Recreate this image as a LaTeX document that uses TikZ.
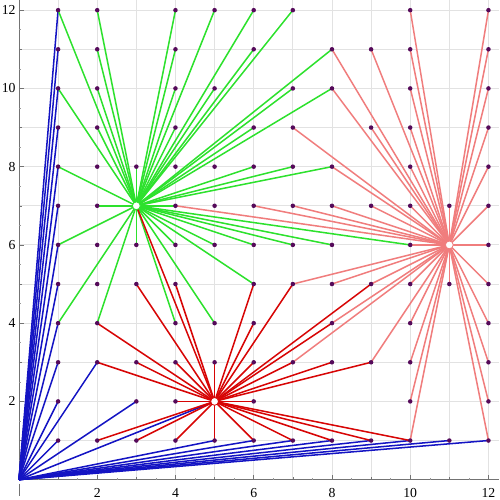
\documentclass[tikz,border=0pt]{standalone}
\usepackage{fontspec}
\setmainfont{Liberation Serif}
\usepackage{xcolor}
\usepackage{tikz}
\usetikzlibrary{positioning}

\definecolor{ptpurple}{RGB}{85,10,90}
\definecolor{blueline}{RGB}{20,20,195}
\definecolor{greenline}{RGB}{45,225,45}
\definecolor{redline}{RGB}{215,5,5}
\definecolor{pinkline}{RGB}{240,125,125}
\definecolor{gridgray}{RGB}{226,226,226}

\tikzset{
  bluestar/.style={blueline, line width=1.1pt},
  greenstar/.style={greenline, line width=1.1pt},
  redstar/.style={redline, line width=1.1pt},
  pinkstar/.style={pinkline, line width=1.1pt},
  latticept/.style={fill=ptpurple},
  ticklabel/.style={font=\fontsize{10}{12}\selectfont, inner sep=0pt}
}

\begin{document}
\begin{tikzpicture}[x=1cm, y=1cm]
  \useasboundingbox (-0.485,-0.52) rectangle (12.28,12.26);

  % ── grid ──
  \foreach \k in {1,...,12} {
    \draw[gridgray, line width=0.6pt] (\k,0) -- (\k,12.26);
    \draw[gridgray, line width=0.6pt] (0,\k) -- (12.28,\k);
  }

  % ── axes and ticks ──
  \draw[black!55, line width=0.4pt] (0,0) -- (12.28,0);
  \draw[black!55, line width=0.4pt] (0,0) -- (0,12.26);
  \foreach \k in {2,4,...,12} {
    \draw[black!55] (\k,0) -- (\k,0.12);
    \draw[black!55] (0,\k) -- (0.12,\k);
    \node[ticklabel] (xl\k) at (\k,-0.33) {\k};
    \node[ticklabel, anchor=east] (yl\k) at (-0.08,\k) {\k};
  }
  \foreach \k in {1,3,...,11} {
    \draw[black!55] (\k,0) -- (\k,0.08);
    \draw[black!55] (0,\k) -- (0.08,\k);
  }
  \foreach \k in {0.5,1.5,...,11.5} {
    \draw[black!40] (\k,0) -- (\k,0.05);
    \draw[black!40] (0,\k) -- (0.05,\k);
  }
  \draw[black!55] (0,-0.1) -- (0,-0.42);

  % ── lattice points ──
  \foreach \py/\row in {12/{1,2,4,5,6,7,10,12},
                        11/{1,2,4,6,8,9,10,12},
                        10/{1,2,4,5,7,8,10,12},
                        9/{1,2,4,6,7,9,10,12},
                        8/{1,2,3,4,5,6,7,8,10,12},
                        7/{1,2,4,5,6,7,8,9,10,11,12},
                        6/{1,2,3,4,5,6,7,8,10,12},
                        5/{1,2,3,4,6,7,8,9,10,11,12},
                        4/{1,2,4,5,6,8,10,12},
                        3/{1,2,3,4,5,6,7,8,9,10,12},
                        2/{1,3,4,6,10,12},
                        1/{1,2,3,4,5,6,7,8,9,10,11,12}} {
    \foreach \px in \row {
      \coordinate (p-\px-\py) at (\px,\py);
    }
  }

  % centres
  \coordinate (cB) at (0,0);
  \coordinate (cG) at (3,7);
  \coordinate (cR) at (5,2);
  \coordinate (cK) at (11,6);

  % ── blue star ──
  \foreach \p in {1-1,1-2,1-3,1-4,1-5,1-6,1-7,1-8,1-9,1-10,1-11,1-12,
                  2-3,3-2,5-1,6-1,7-1,8-1,9-1,10-1,11-1,12-1}
    \draw[bluestar] (cB) -- (p-\p);
  \draw[bluestar] (cB) -- (cR);

  % ── pink star ──
  \foreach \p in {10-12,12-12,
                  8-11,9-11,10-11,12-11,
                  8-10,10-10,12-10,
                  7-9,9-9,10-9,12-9,
                  8-8,10-8,12-8,
                  4-7,6-7,7-7,8-7,9-7,10-7,11-7,12-7,
                  10-6,12-6,
                  7-5,8-5,9-5,10-5,11-5,12-5,
                  8-4,10-4,12-4,
                  7-3,9-3,10-3,12-3,
                  10-2,12-2,10-1,12-1}
    \draw[pinkstar] (cK) -- (p-\p);

  % ── green star ──
  \foreach \p in {1-12,2-12,4-12,5-12,6-12,7-12,
                  2-11,4-11,6-11,8-11,
                  1-10,2-10,4-10,5-10,7-10,8-10,
                  2-9,4-9,6-9,
                  1-8,3-8,6-8,7-8,8-8,
                  2-7,4-7,
                  1-6,3-6,4-6,5-6,6-6,7-6,8-6,10-6,
                  6-5,1-4,2-4,4-4,5-4}
    \draw[greenstar] (cG) -- (p-\p);

  % ── red star ──
  \foreach \p in {2-1,3-1,4-1,5-1,6-1,7-1,8-1,9-1,10-1,
                  4-2,6-2,
                  2-3,3-3,4-3,5-3,6-3,7-3,8-3,9-3,
                  2-4,6-4,8-4,
                  3-5,4-5,6-5,7-5,9-5}
    \draw[redstar] (cR) -- (p-\p);
  \draw[redstar] (cR) -- (cG);

  % ── dots on top ──
  \foreach \py/\row in {12/{1,2,4,5,6,7,10,12},
                        11/{1,2,4,6,8,9,10,12},
                        10/{1,2,4,5,7,8,10,12},
                        9/{1,2,4,6,7,9,10,12},
                        8/{1,2,3,4,5,6,7,8,10,12},
                        7/{1,2,4,5,6,7,8,9,10,11,12},
                        6/{1,2,3,4,5,6,7,8,10,12},
                        5/{1,2,3,4,6,7,8,9,10,11,12},
                        4/{1,2,4,5,6,8,10,12},
                        3/{1,2,3,4,5,6,7,8,9,10,12},
                        2/{1,3,4,6,10,12},
                        1/{1,2,3,4,5,6,7,8,9,10,11,12}} {
    \foreach \px in \row {
      \fill[latticept] (p-\px-\py) circle (0.058);
    }
  }
  \fill[white, draw=greenline, line width=0.6pt] (cG) circle (0.1);
  \fill[white, draw=redline, line width=0.6pt] (cR) circle (0.1);
  \fill[white, draw=pinkline, line width=0.6pt] (cK) circle (0.1);
\end{tikzpicture}
\end{document}
